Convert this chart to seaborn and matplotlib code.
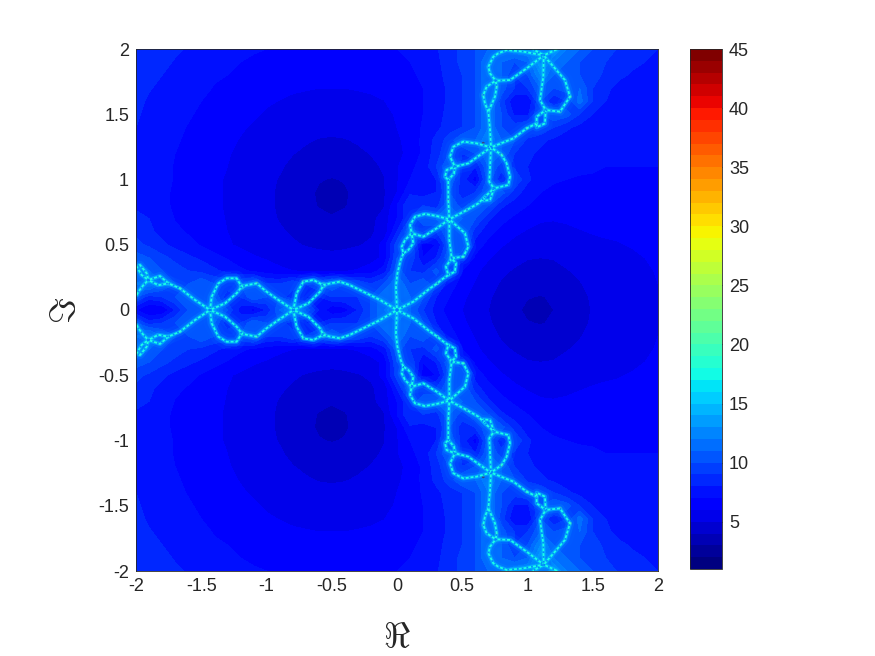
import numpy as np
import pandas as pd
import matplotlib
matplotlib.use("Agg")
import matplotlib.pyplot as plt
import seaborn as sns

sns.set_style("white")
plt.rcParams["font.family"] = ["Liberation Sans", "DejaVu Sans"]
plt.rcParams["mathtext.fontset"] = "cm"

grid_x = [round(-2 + 0.1 * i, 1) for i in range(41)]
grid_y = [round(0.1 * i, 1) for i in range(21)]

# band value on a 0.1 grid, upper half, rows from y=0 to y=2
field_rows = [
 [7,5.8,6,8,10,11,13,10,7.5,6.5,8,11,14,11,8,6,6.5,8,10,12,16,11, 9,7.5,6.5,6,5.5,5,4.6,4.2,3.8,3.6,4,4.4,4.7,5.05,5.3,5.5,5.7,5.85,6],
 [10,8.5,9,10,11,11,11,8,9,11,10,10,8,8,8,9,9,9,10,12,12,11, 10,8,7,6.2,5.6,5.1,4.7,4.3,4.05,3.95,4.1,4.5,4.8,5.1,5.3,5.5,5.7,5.85,6],
 [12,13,11,10,10,11,10,10,10,11,9,9,10,9,10,11,10,10,9,10,12,10, 11,9,7.5,6.6,5.9,5.3,4.9,4.6,4.35,4.3,4.4,4.7,4.95,5.2,5.4,5.55,5.7,5.85,6],
 [12,11,10,9.5,9,8.7,8.2,7.7,7.2,6.8,6.5,6.2,6,5.9,5.8,5.8,5.9,6.1,6.5,7.5,10.5,9, 8.5,10.5,8,7,6.2,5.6,5.2,4.9,4.7,4.6,4.7,4.95,5.15,5.35,5.5,5.6,5.75,5.9,6.05],
 [10.5,10,9.3,8.7,8.2,7.8,7.3,6.9,6.4,6.1,5.9,5.65,5.5,5.35,5.25,5.2,5.25,5.35,5.6,6.2,10,10, 7,8,11,8.5,6.8,6.1,5.6,5.3,5.05,5,5.05,5.2,5.4,5.55,5.65,5.75,5.85,6,6.1],
 [9.3,8.8,8.2,7.7,7.3,6.9,6.5,6.1,5.85,5.65,5.45,5.25,5.1,4.95,4.85,4.8,4.85,4.95,5.1,6.5,9.5,10, 6.5,7,10,11,7.5,6.7,6.1,5.7,5.5,5.4,5.45,5.55,5.7,5.8,5.9,5.95,6.05,6.1,6.2],
 [8.8,8.2,7.7,7.2,6.9,6.5,6.3,6,5.75,5.55,5.33,5.1,4.9,4.65,4.45,4.4,4.45,4.65,4.9,5.3,8,11, 9,9,11,11,8.5,7.3,6.7,6.2,5.9,5.75,5.75,5.85,5.95,6.05,6.1,6.15,6.25,6.3,6.4],
 [8.5,8,7.5,6.95,6.7,6.4,6.2,5.95,5.7,5.45,5.2,4.95,4.65,4.35,4.2,4.1,4.2,4.35,4.65,5.5,7,9, 11,11,13,11,10,8.2,7.3,6.8,6.4,6.1,6.05,6.1,6.2,6.25,6.3,6.4,6.45,6.5,6.55],
 [7.7,7.4,7.15,6.9,6.6,6.4,6.15,5.9,5.65,5.4,5.15,4.9,4.55,4.25,3.95,3.75,3.95,4.25,4.55,4.9,7,9, 9,8.5,11,9.5,11,10,8.2,7.5,7,6.6,6.4,6.4,6.45,6.5,6.55,6.6,6.65,6.7,6.75],
 [7.7,7.4,7.15,6.9,6.6,6.4,6.15,5.9,5.65,5.4,5.15,4.9,4.5,4.2,3.9,3.6,3.9,4.2,4.5,4.9,6,7.8, 7.5,8,10,8.5,9,11,10.5,8.5,7.5,7,6.8,6.75,6.75,6.8,6.8,6.85,6.85,6.9,6.9],
 [7.7,7.4,7.2,6.95,6.6,6.4,6.15,5.92,5.67,5.42,5.2,4.95,4.6,4.3,4.05,3.95,4.05,4.3,4.6,4.95,5.9,7, 7.3,8,11,8.5,6.5,10.5,8.2,10,8.2,7.4,7.1,7,6.95,6.95,6.95,6.95,6.95,6.95,6.95],
 [7.75,7.45,7.2,6.95,6.7,6.45,6.2,6,5.75,5.5,5.3,5.1,4.8,4.6,4.35,4.3,4.35,4.6,4.8,5.1,5.9,6.8, 7.3,9,11,8.5,8,11,9.5,8.8,8,7.6,7.3,7.2,7.1,7.05,7,7,7,7,7],
 [7.8,7.5,7.25,7,6.75,6.5,6.3,6.07,5.82,5.6,5.4,5.2,5.03,4.85,4.65,4.6,4.65,4.85,5.03,5.2,5.7,6.3, 7.2,8.5,10,9,10,12,11,9,8.2,7.8,7.5,7.3,7.2,7.15,7.1,7.05,7.05,7.05,7.05],
 [7.9,7.6,7.3,7.1,6.85,6.6,6.4,6.2,5.95,5.75,5.55,5.37,5.22,5.08,4.95,4.9,4.95,5.08,5.22,5.37,5.8,6.4, 7.2,8.3,9.5,11,11,13,11,10,8.8,8.2,7.8,7.5,7.3,7.2,7.1,7.1,7.1,7.1,7.1],
 [8,7.7,7.4,7.2,6.95,6.7,6.5,6.3,6.1,5.9,5.72,5.55,5.42,5.32,5.25,5.22,5.25,5.32,5.42,5.55,6,6.5, 7.1,7.7,8.5,9,10,12,10,9.5,10,10,9,8.2,7.7,7.4,7.2,7.1,7.1,7.1,7.1],
 [8.1,7.8,7.55,7.3,7.1,6.85,6.6,6.45,6.25,6.1,5.9,5.75,5.65,5.55,5.5,5.47,5.5,5.55,5.65,5.75,6.1,6.5, 7,7.6,8.3,9,10,12,10,7.8,7.8,10,11,10.5,9,8,7.5,7.3,7.2,7.1,7.1],
 [8.2,7.9,7.7,7.4,7.2,7,6.75,6.55,6.4,6.25,6.1,5.98,5.87,5.8,5.75,5.72,5.75,5.8,5.87,5.98,6.3,6.6, 7,7.5,8.2,9,10,12,9.5,7,7,10,8,9,11.5,9,8,7.5,7.3,7.2,7.2],
 [8.3,8.05,7.85,7.6,7.4,7.2,6.95,6.8,6.6,6.45,6.3,6.2,6.1,6.05,6,6,6,6.05,6.1,6.2,6.4,6.7, 7,7.5,8.2,9,10,12,10.5,9,9,11,10,10.5,11,9,8.2,7.7,7.5,7.4,7.4],
 [8.4,8.2,8,7.75,7.55,7.35,7.1,7,6.8,6.6,6.5,6.4,6.35,6.3,6.25,6.25,6.25,6.3,6.35,6.4,6.6,6.8, 7.2,7.7,8.3,9,10,12,11,9,10,13,11,11,10,9.5,8.7,8.2,7.9,7.7,7.6],
 [8.55,8.35,8.15,7.95,7.75,7.5,7.3,7.15,7,6.85,6.75,6.65,6.6,6.55,6.5,6.5,6.5,6.55,6.6,6.65,6.8,7, 7.4,7.8,8.4,9.3,10,12,11,10,11,15,12,11,10,9.6,9,8.6,8.2,8,7.9],
 [8.7,8.5,8.3,8.1,7.95,7.7,7.55,7.35,7.2,7.1,7,6.9,6.8,6.75,6.7,6.7,6.7,6.75,6.8,6.9,7,7.2, 7.5,7.9,8.5,9.3,10,11,12,13,13,15,14,12,11,10,9.4,8.9,8.5,8.2,8],
]

# Julia set strands (upper half), each one a polyline
left_arm = [
 [(0,0),(-.13,.077),(-.258,.14),(-.36,.19),(-.437,.217),(-.513,.204),(-.564,.19),(-.64,.23),(-.718,.217),(-.769,.128),(-.794,0)],
 [(-.794,0),(-.68,.051),(-.59,.14),(-.564,.19)],
 [(-.794,0),(-.909,.077),(-.999,.14),(-1.075,.204),(-1.152,.19),(-1.19,.179),(-1.229,.243),(-1.305,.243),(-1.369,.204),(-1.42,.102),(-1.433,0)],
 [(-1.433,0),(-1.318,.051),(-1.229,.128),(-1.19,.179)],
 [(-1.433,0),(-1.548,.077),(-1.663,.166),(-1.752,.204),(-1.816,.26),(-1.867,.243),(-1.905,.23)],
 [(-1.905,.23),(-1.957,.268),(-1.995,.332),(-1.969,.345),(-1.918,.281),(-1.905,.23)],
 [(-1.905,.23),(-1.944,.19),(-1.982,.14),(-1.995,.115)],
 [(-1.905,.23),(-1.829,.19),(-1.752,.204)],
]
upper_arm = [
 [(0,0),(.125,.064),(.253,.166),(.309,.204),(.345,.235),(.393,.268),(.375,.332),(.419,.396),(.401,.536),(.401,.695)],
 [(.401,.695),(.521,.587),(.547,.485),(.508,.409),(.419,.396),(.452,.358),(.444,.294),(.393,.268)],
 [(0,0),(-.008,.179),(.003,.281),(.028,.383),(.049,.434),(.036,.485),(.061,.536),(.112,.587),(.125,.511),(.087,.46),(.049,.434)],
 [(.112,.587),(.1,.651),(.138,.715),(.215,.736),(.304,.72),(.401,.695)],
 [(.112,.587),(.202,.562),(.304,.626),(.401,.695)],
 [(.401,.695),(.534,.766),(.623,.817),(.674,.868),(.743,.932),(.713,.843),(.661,.838),(.674,.868)],
 [(.743,.932),(.853,.958),(.866,1.022),(.84,1.124),(.802,1.188),(.72,1.246)],
 [(.743,.932),(.707,.983),(.713,1.098),(.72,1.246)],
 [(.401,.695),(.393,.843),(.393,.996),(.368,1.022),(.381,1.073),(.444,1.098),(.437,1.047),(.393,.996)],
 [(.444,1.098),(.406,1.175),(.432,1.251),(.508,1.29),(.61,1.277),(.72,1.246)],
 [(.444,1.098),(.547,1.124),(.636,1.188),(.72,1.246)],
 [(.72,1.246),(.891,1.315),(.994,1.392),(1.07,1.43),(1.07,1.481),(1.139,1.532),(1.134,1.43),(1.07,1.4),(1.07,1.43)],
 [(1.139,1.532),(1.249,1.52),(1.326,1.635),(1.287,1.762),(1.21,1.852),(1.124,1.951)],
 [(1.139,1.532),(1.096,1.609),(1.121,1.788),(1.124,1.951)],
 [(.72,1.246),(.713,1.379),(.7,1.52),(.674,1.583),(.661,1.647),(.687,1.711),(.756,1.757),(.764,1.711),(.751,1.635),(.7,1.52)],
 [(.756,1.757),(.713,1.813),(.7,1.864),(.738,1.941),(.776,1.967),(.84,1.992),(.968,1.98),(1.124,1.951)],
 [(.756,1.757),(.866,1.762),(.994,1.852),(1.124,1.951)],
 [(1.124,1.951),(1.045,1.997)],
 [(1.124,1.951),(1.223,1.997)],
]
node_x = [0, .401, .72, 1.124, -.794, -1.433, -1.905, .743, .112, .444, 1.139, .756, -1.19, -.564, .419]
node_y = [0, .695, 1.246, 1.951, 0, 0, .23, .932, .587, 1.098, 1.532, 1.757, .179, .19, .396]
node_value = [27, 25, 24, 32, 25, 25, 24, 23, 22, 22, 22, 22, 22, 22, 22]

# small hot specks seen along the strands
speck_x = [.72, .661, .802, 1.124, .764, .661, .508, .393, 1.249, 1.326, .994, .309, -.437, -1.075, -1.663, -1.752, -.718, .534]
speck_y = [1.246, 1.277, 1.188, 1.951, 1.711, 1.647, .409, .843, 1.52, 1.635, 1.392, .204, .217, .204, .166, .204, .217, .766]
speck_value = [42, 44, 37, 42, 38, 35, 30, 36, 33, 31, 30, 28, 37, 36, 30, 28, 36, 30]

bar_ticks = [5, 10, 15, 20, 25, 30, 35, 40, 45]
axis_ticks = [-2, -1.5, -1, -0.5, 0, 0.5, 1, 1.5, 2]
axis_labels = ["-2", "-1.5", "-1", "-0.5", "0", "0.5", "1", "1.5", "2"]

upper = np.array(field_rows, dtype=float)
Z = np.vstack([upper[:0:-1], upper])
Y = [-v for v in grid_y[:0:-1]] + grid_y

records = []
for i, strand in enumerate(left_arm + upper_arm):
    for sign, tag in ((1, "u"), (-1, "l")):
        for px, py in strand:
            records.append((f"{tag}{i}", px, sign * py))
strands = pd.DataFrame(records, columns=["seg", "x", "y"])

levels = list(range(1, 46))
cmap = plt.get_cmap("jet").resampled(44)

fig = plt.figure(figsize=(8.75, 6.56), dpi=100)
ax = fig.add_axes([136 / 875, 1 - 571 / 656, 522 / 875, 522 / 656])
cax = fig.add_axes([690 / 875, 1 - 569 / 656, 32 / 875, 520 / 656])
cs = ax.contourf(grid_x, Y, Z, levels=levels, cmap=cmap, vmin=1, vmax=45)

for lw, col, alpha, ls in [(11, (0, .4, 1), .18, "-"), (6, (0, .55, 1), .3, "-"),
                           (3, (0, .75, 1), .55, "-"), (1.3, (.1, 1, .9), 1, "-"),
                           (1.3, (0, .5, 1), .9, ":")]:
    sns.lineplot(data=strands, x="x", y="y", units="seg", estimator=None, sort=False,
                 color=col, lw=lw, alpha=alpha, linestyle=ls, legend=False, ax=ax)

nodes = pd.DataFrame({"x": node_x + node_x, "y": node_y + [-v for v in node_y],
                      "v": node_value + node_value})
specks = pd.DataFrame({"x": speck_x + speck_x, "y": speck_y + [-v for v in speck_y],
                       "v": speck_value + speck_value})
sns.scatterplot(data=nodes, x="x", y="y", hue="v", palette=cmap, hue_norm=(1, 45), s=18,
                linewidth=0, legend=False, ax=ax)
sns.scatterplot(data=specks, x="x", y="y", hue="v", palette=cmap, hue_norm=(1, 45), s=5,
                linewidth=0, legend=False, ax=ax)

ax.set_xlim(-2, 2)
ax.set_ylim(-2, 2)
ax.set_xticks(axis_ticks, axis_labels)
ax.set_yticks(axis_ticks, axis_labels)
ax.tick_params(labelsize=13, colors="#262626", length=0, pad=5)
ax.set_xlabel(r"$\Re$", fontsize=26, color="#262626", labelpad=18)
ax.set_ylabel(r"$\Im$", fontsize=26, color="#262626", labelpad=11)
for s in ax.spines.values():
    s.set_linewidth(0.6)
    s.set_color("#262626")

cb = fig.colorbar(cs, cax=cax, ticks=bar_ticks)
cb.ax.tick_params(labelsize=13, colors="#262626", length=3, width=0.6, direction="in", pad=5)
cb.outline.set_linewidth(0.6)
cb.outline.set_edgecolor("#262626")
cb.ax.set_ylim(1, 45)

fig.savefig("out.png", dpi=100)
